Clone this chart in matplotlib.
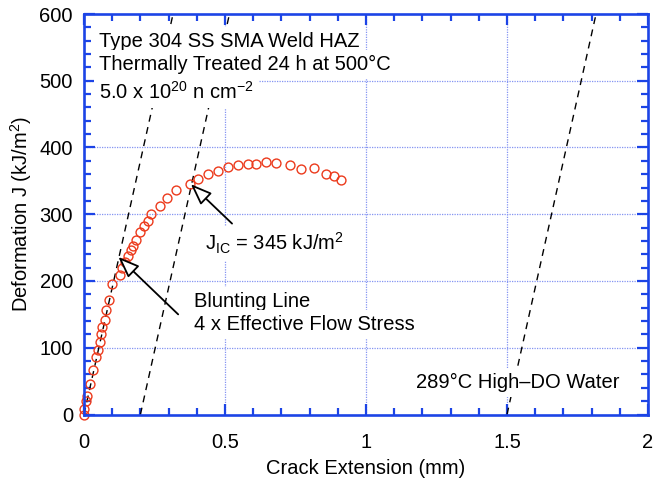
import matplotlib
matplotlib.use("Agg")
import matplotlib.pyplot as plt
from matplotlib.ticker import MultipleLocator, FixedLocator, FixedFormatter
import numpy as np

plt.rcParams['font.family'] = ['Liberation Sans', 'DejaVu Sans']
plt.rcParams['mathtext.default'] = 'regular'

# J-R data: crack extension (mm) and J (kJ/m^2)
crack_ext = [0.000, 0.000, 0.008, 0.012, 0.023, 0.032, 0.043, 0.050, 0.056, 0.060,
             0.065, 0.074, 0.079, 0.089, 0.101, 0.127, 0.134, 0.146, 0.156, 0.168,
             0.172, 0.184, 0.198, 0.211, 0.227, 0.237, 0.269, 0.296, 0.328, 0.375,
             0.406, 0.440, 0.474, 0.512, 0.546, 0.583, 0.611, 0.645, 0.682, 0.729,
             0.771, 0.817, 0.858, 0.888, 0.913]
j_values = [0, 8, 20, 27, 46, 67, 86, 97, 108, 120,
            131, 142, 156, 172, 195, 209, 219, 229, 238, 246,
            252, 262, 273, 283, 290, 300, 313, 325, 336, 345,
            353, 360, 365, 371, 374, 375, 376, 379, 377, 374,
            368, 369, 360, 358, 351]

# Blunting line: J = 4 * effective flow stress * crack extension
flow_stress = 475.0             # MPa
line_offsets = [0.0, 0.2, 1.5]  # mm
j_ic = 345
j_ic_ext = 0.375

x_ticks = [0, 0.5, 1, 1.5, 2]
x_tick_labels = ['0', '0.5', '1', '1.5', '2']
y_ticks = [0, 100, 200, 300, 400, 500, 600]

blue = '#1c44e6'
red = '#ec3a1c'
grid_blue = '#8494f2'

fig = plt.figure(figsize=(6.55, 4.82), dpi=100)
ax = fig.add_axes([84 / 655, 1 - 414.5 / 482, (648 - 84) / 655, (414.5 - 14) / 482])

ax.set_xlim(0, 2)
ax.set_ylim(0, 600)

# grid
ax.set_axisbelow(True)
for xv in x_ticks[1:-1]:
    ax.axvline(xv, color=grid_blue, lw=0.9, ls=(0, (1, 1)), zorder=0.5)
for yv in y_ticks[1:-1]:
    ax.axhline(yv, color=grid_blue, lw=0.9, ls=(0, (1, 1)), zorder=0.5)

# blunting and exclusion lines
slope = 4 * flow_stress  # MPa*mm -> kJ/m^2
for off in line_offsets:
    xs = np.array([off, off + 600 / slope])
    ax.plot(xs, slope * (xs - off), color='black', lw=1.0, ls=(0, (5, 4)), zorder=1)

# data
ax.plot(crack_ext, j_values, ls='none', marker='o', ms=6.4, mfc='none',
        mec=red, mew=1.0, zorder=3, clip_on=False)

fs = 14.5
box = dict(boxstyle='square,pad=0.25', fc='white', ec='none')
ax.text(0.053, 550, 'Type 304 SS SMA Weld HAZ', fontsize=fs, va='baseline',
        bbox=box, zorder=2)
ax.text(0.053, 516, 'Thermally Treated 24 h at 500°C', fontsize=fs, va='baseline',
        bbox=box, zorder=2)
ax.text(0.053, 473, '5.0 x 10$^{20}$ n cm$^{-2}$', fontsize=fs, va='baseline',
        bbox=box, zorder=2)
ax.text(0.43, 246, 'J$_{IC}$ = 345 kJ/m$^{2}$', fontsize=fs, va='baseline',
        bbox=box, zorder=2)
ax.text(0.39, 161, 'Blunting Line', fontsize=fs, va='baseline', bbox=box, zorder=2)
ax.text(0.39, 127, '4 x Effective Flow Stress', fontsize=fs, va='baseline',
        bbox=box, zorder=2)
ax.text(1.176, 40, '289°C High–DO Water', fontsize=fs, va='baseline',
        bbox=box, zorder=2)

arrow = dict(arrowstyle='-|>,head_length=1.3,head_width=0.5', fc='white',
             ec='black', lw=1.3, shrinkA=0, shrinkB=0)
ax.annotate('', xy=(0.379, j_ic), xytext=(0.525, 286), arrowprops=arrow, zorder=4)
ax.annotate('', xy=(0.122, 236), xytext=(0.334, 150), arrowprops=arrow, zorder=4)

# axes styling
for sp in ax.spines.values():
    sp.set_color(blue)
    sp.set_linewidth(1.9)
    sp.set_zorder(5)
ax.xaxis.set_major_locator(FixedLocator(x_ticks))
ax.xaxis.set_major_formatter(FixedFormatter(x_tick_labels))
ax.xaxis.set_minor_locator(MultipleLocator(0.1))
ax.yaxis.set_major_locator(FixedLocator(y_ticks))
ax.yaxis.set_minor_locator(MultipleLocator(20))
ax.tick_params(which='both', direction='in', top=True, right=True,
               color=blue, width=1.6, labelsize=fs, labelcolor='black')
ax.tick_params(which='major', length=8)
ax.tick_params(which='minor', length=5)
ax.tick_params(axis='x', which='major', pad=13)
ax.tick_params(axis='y', which='major', pad=8)

ax.set_xlabel('Crack Extension (mm)', fontsize=fs, labelpad=5)
ax.set_ylabel('Deformation J (kJ/m$^{2}$)', fontsize=fs, labelpad=4)

fig.savefig('out.png', dpi=100)
